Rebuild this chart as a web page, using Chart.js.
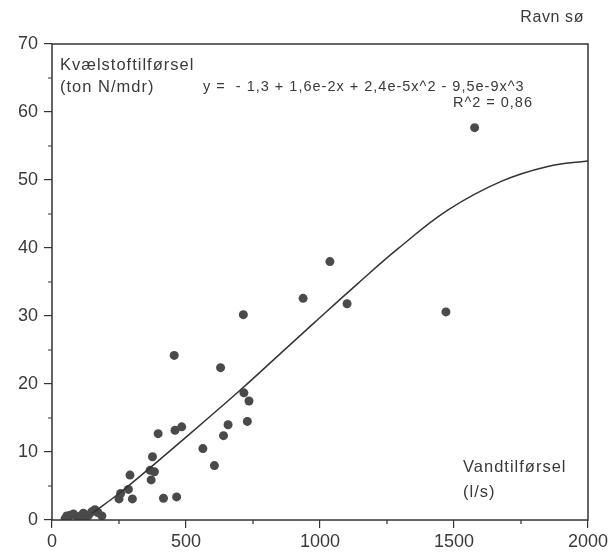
<!DOCTYPE html>
<html>
<head>
<meta charset="utf-8">
<script src="https://cdn.jsdelivr.net/npm/chart.js@4"></script>
<style>
  html, body { margin: 0; padding: 0; background: #fff; }
  #wrap { width: 614px; height: 553px; }
</style>
</head>
<body>
<div id="wrap"><canvas id="graf"></canvas></div>
<script>
// Målepunkter (vandtilførsel l/s, kvælstof ton N/mdr)
const punktX = [49, 55, 60, 68, 80, 96, 105, 117, 124, 136, 148, 160, 171, 186,
  250, 256, 285, 291, 300, 366, 370, 375, 382, 396, 416, 456, 459, 465, 484,
  563, 606, 629, 640, 657, 714, 716, 729, 735, 937, 1037, 1101, 1470, 1577];
const punktY = [0.2, 0.6, 0.4, 0.7, 0.9, 0.3, 0.6, 1.0, 0.3, 0.7, 1.2, 1.5, 1.1, 0.6,
  3.1, 3.9, 4.5, 6.6, 3.1, 7.3, 5.9, 9.3, 7.1, 12.7, 3.2, 24.2, 13.2, 3.4, 13.7,
  10.5, 8.0, 22.4, 12.4, 14.0, 30.2, 18.7, 14.5, 17.5, 32.6, 38.0, 31.8, 30.6, 57.7];

// Tilpasset kurve
const kurveX = [150, 250, 358, 450, 583, 708, 850, 981, 1142, 1291, 1478, 1676, 1850, 2000];
const kurveY = [1.0, 3.9, 7.4, 10.5, 15.0, 19.3, 24.4, 29.1, 34.8, 39.9, 45.6, 49.8, 52.0, 52.8];

// Akser
const xMaks = 2000, xTrin = 500;
const yMaks = 70, yTrin = 10;
const xSmaaTicks = [250, 750, 1250, 1750];
const ySmaaTicks = [5, 15, 25, 35, 45, 55, 65];

const farve = '#3a3a3a';
const skrift = '"Liberation Sans", Arial, sans-serif';

// Ramme, små ticks og tekster
const tegnPlugin = {
  id: 'tegn',
  afterDraw(chart) {
    const ctx = chart.ctx;
    const a = chart.chartArea;
    const sx = chart.scales.x, sy = chart.scales.y;
    ctx.save();
    ctx.strokeStyle = '#333';
    ctx.lineWidth = 1.5;
    ctx.strokeRect(a.left, a.top, a.right - a.left, a.bottom - a.top);

    ctx.lineWidth = 1.2;
    ctx.beginPath();
    ySmaaTicks.forEach(v => {
      const y = sy.getPixelForValue(v);
      ctx.moveTo(a.left - 4, y);
      ctx.lineTo(a.left, y);
    });
    xSmaaTicks.forEach(v => {
      const x = sx.getPixelForValue(v);
      ctx.moveTo(x, a.bottom);
      ctx.lineTo(x, a.bottom + 4);
    });
    ctx.stroke();

    ctx.fillStyle = farve;
    ctx.textBaseline = 'middle';
    ctx.font = '16px ' + skrift;
    ctx.letterSpacing = '0.6px';
    ctx.textAlign = 'right';
    ctx.fillText('Ravn sø', 584, 18);
    ctx.font = '16.5px ' + skrift;
    ctx.letterSpacing = '1px';
    ctx.textAlign = 'left';
    ctx.fillText('Kvælstoftilførsel', 60, 65);
    ctx.fillText('(ton N/mdr)', 60, 87);
    ctx.fillText('Vandtilførsel', 463, 467);
    ctx.fillText('(l/s)', 463, 492);

    ctx.font = '14.5px ' + skrift;
    ctx.letterSpacing = '1px';
    ctx.fillText('y =  - 1,3 + 1,6e-2x + 2,4e-5x^2 - 9,5e-9x^3', 203, 87);
    ctx.textAlign = 'right';
    ctx.fillText('R^2 = 0,86', 533, 103);
    ctx.restore();
  }
};

new Chart(document.getElementById('graf'), {
  type: 'scatter',
  data: {
    datasets: [
      {
        type: 'line',
        data: kurveX.map((x, i) => ({ x: x, y: kurveY[i] })),
        borderColor: '#333',
        borderWidth: 1.5,
        pointRadius: 0,
        fill: false,
        tension: 0.4
      },
      {
        data: punktX.map((x, i) => ({ x: x, y: punktY[i] })),
        backgroundColor: '#4a4a4a',
        borderColor: '#4a4a4a',
        borderWidth: 0,
        pointRadius: 4.5
      }
    ]
  },
  options: {
    responsive: true,
    maintainAspectRatio: false,
    animation: false,
    layout: { padding: { top: 44, right: 26, left: 0, bottom: 0 } },
    plugins: { legend: { display: false }, tooltip: { enabled: false } },
    scales: {
      x: {
        type: 'linear',
        min: 0, max: xMaks,
        border: { display: false },
        grid: { drawOnChartArea: false, tickLength: 8, tickColor: '#333', lineWidth: 1.2 },
        ticks: { stepSize: xTrin, color: farve, padding: 3, font: { family: skrift, size: 18 },
          callback: v => String(v) },
        afterFit(s) { s.height = 33; }
      },
      y: {
        min: 0, max: yMaks,
        border: { display: false },
        grid: { drawOnChartArea: false, tickLength: 8, tickColor: '#333', lineWidth: 1.2 },
        ticks: { stepSize: yTrin, color: farve, padding: 6, font: { family: skrift, size: 18 },
          callback: v => String(v) },
        afterFit(s) { s.width = 52; }
      }
    }
  },
  plugins: [tegnPlugin]
});
</script>
</body>
</html>
